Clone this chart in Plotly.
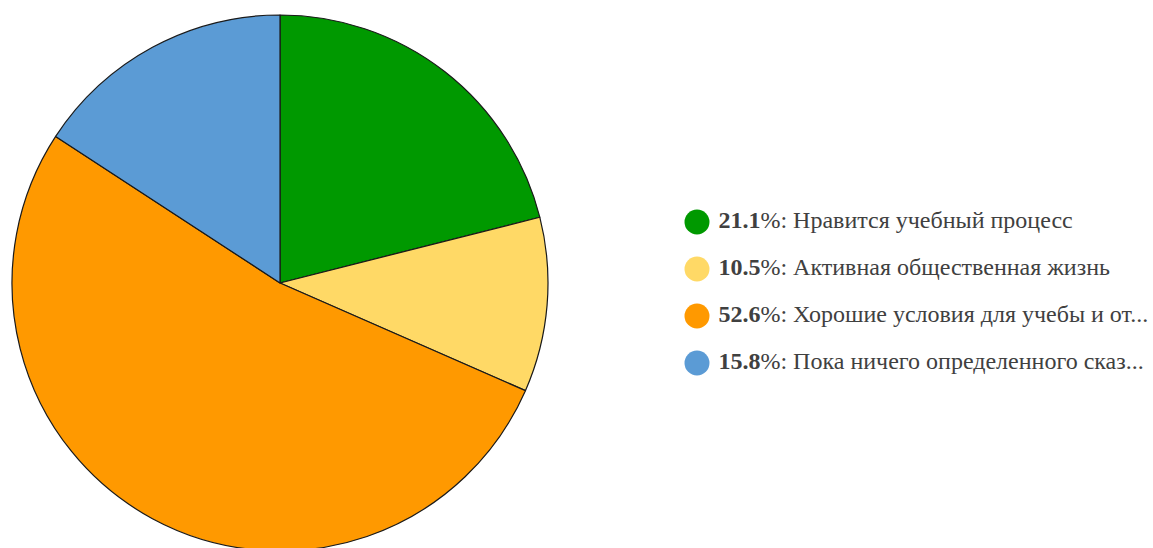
import plotly.graph_objects as go

labels = [
    "Нравится учебный процесс",
    "Активная общественная жизнь",
    "Хорошие условия для учебы и от...",
    "Пока ничего определенного сказ...",
]
values = [4, 2, 10, 3]
colors = ["#009900", "#FFD966", "#FF9900", "#5B9BD5"]

W, H = 1153, 566
total = sum(values)
pcts = [100.0 * v / total for v in values]
legend_text = [f"\u2009<b>{p:.1f}</b>%: {l}" for p, l in zip(pcts, labels)]

fig = go.Figure()
fig.add_trace(go.Pie(
    labels=labels,
    values=values,
    marker=dict(colors=colors, line=dict(color="#1a1a1a", width=1.2)),
    sort=False,
    direction="clockwise",
    rotation=0,
    textinfo="none",
    hoverinfo="label+percent",
    showlegend=False,
    domain=dict(x=[12 / W, 548 / W], y=[0, 1]),
))

# custom legend with round markers
leg_x0, leg_y0, leg_dy = 697, 222, 47
fig.add_trace(go.Scatter(
    x=[leg_x0] * len(labels),
    y=[leg_y0 + i * leg_dy for i in range(len(labels))],
    mode="markers+text",
    marker=dict(size=25, color=colors, line=dict(width=0)),
    text=legend_text,
    textposition="middle right",
    textfont=dict(family="Liberation Serif", size=24, color="#404040"),
    hoverinfo="skip",
    showlegend=False,
    cliponaxis=False,
))

fig.update_layout(
    width=W, height=H,
    margin=dict(l=0, r=0, t=0, b=0),
    paper_bgcolor="white",
    plot_bgcolor="rgba(0,0,0,0)",
    xaxis=dict(range=[0, W], visible=False, fixedrange=True),
    yaxis=dict(range=[H, 0], visible=False, fixedrange=True),
    font=dict(family="Liberation Serif"),
)

fig.write_html(
    "out.html",
    config={"displayModeBar": False},
    post_script="document.body.style.margin='0';document.body.style.overflow='hidden';document.documentElement.style.overflow='hidden';",
)
